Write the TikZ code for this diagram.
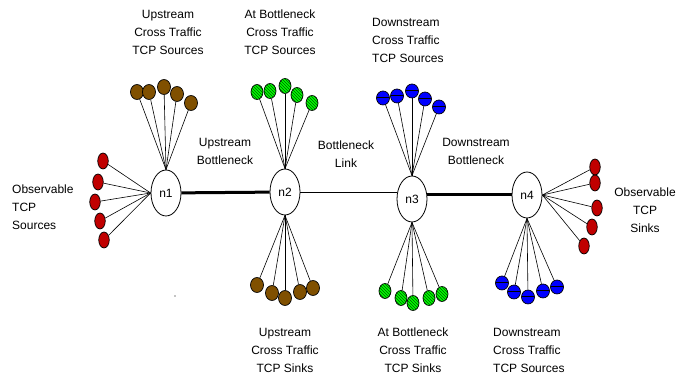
\documentclass[tikz,border=0pt]{standalone}
\usepackage{fontspec}
\setmainfont{Liberation Sans}
\usetikzlibrary{shapes.geometric}
\usetikzlibrary{patterns}

\definecolor{obsred}{RGB}{192,0,0}
\definecolor{upbrown}{RGB}{128,80,0}
\definecolor{atgreen}{RGB}{0,255,0}
\definecolor{dnblue}{RGB}{0,0,255}

\begin{document}
\begin{tikzpicture}[
x=1pt, y=-1pt,
hub/.style ={ellipse, draw, line width=0.8pt, fill=white,
  minimum width=30pt, minimum height=46pt, inner sep=0pt,
  font=\fontsize{12}{14}\selectfont
},
leaf/.style ={ellipse, draw, line width=0.7pt, inner sep=0pt,
  minimum width=12pt, minimum height=15pt},
obs/.style ={leaf, fill=obsred, minimum width=10.5pt, minimum height=16pt},
upx/.style ={leaf, fill=upbrown, minimum width=13pt},
atb/.style ={leaf, preaction={fill=atgreen},
  pattern=north west lines, pattern color=green!35!black},
dnx/.style ={leaf, fill=dnblue, minimum width=13pt, minimum height=14pt,
  path picture={\draw[line width=1pt] (path picture bounding box.west) -- (path picture bounding box.east);}},
lbl/.style ={align=center, inner sep=0pt, font=\fontsize{12}{18}\selectfont},
line/.style ={draw, line width=0.6pt},
link/.style ={draw, line width=0.8pt},
thicklink/.style ={draw, line width=3pt}
]
\useasboundingbox (0,0) rectangle (694,379);

% routers
\node[hub] (n1) at (166,193) {n1};
\node[hub] (n2) at (285,192) {n2};
\node[hub] (n3) at (412,199) {n3};
\node[hub] (n4) at (527,195) {n4};

% observable sources
\node[obs] (src1) at (103,161) {};
\node[obs] (src2) at (98,182) {};
\node[obs] (src3) at (95,202) {};
\node[obs] (src4) at (100,221) {};
\node[obs] (src5) at (104,240) {};

% upstream cross traffic sources
\node[upx] (ups1) at (137,92) {};
\node[upx] (ups2) at (149,92) {};
\node[upx] (ups3) at (164,87) {};
\node[upx] (ups4) at (177,94) {};
\node[upx] (ups5) at (191,103) {};

% at bottleneck cross traffic sources
\node[atb] (ats1) at (257,92) {};
\node[atb] (ats2) at (270,91) {};
\node[atb] (ats3) at (285,86) {};
\node[atb] (ats4) at (297,95) {};
\node[atb] (ats5) at (312,103) {};

% downstream cross traffic sources (top)
\node[dnx] (dns1) at (383,98) {};
\node[dnx] (dns2) at (397,96) {};
\node[dnx] (dns3) at (412,91) {};
\node[dnx] (dns4) at (425,99) {};
\node[dnx] (dns5) at (439,107) {};

% observable sinks
\node[obs] (snk1) at (595,167) {};
\node[obs] (snk2) at (595,183) {};
\node[obs] (snk3) at (597,208) {};
\node[obs] (snk4) at (592,227) {};
\node[obs] (snk5) at (584,246) {};

% upstream cross traffic sinks
\node[upx] (upk1) at (257,285) {};
\node[upx] (upk2) at (272,293) {};
\node[upx] (upk3) at (285,298) {};
\node[upx] (upk4) at (300,292) {};
\node[upx] (upk5) at (313,288) {};

% at bottleneck cross traffic sinks
\node[atb] (atk1) at (385,291) {};
\node[atb] (atk2) at (401,298) {};
\node[atb] (atk3) at (413,303) {};
\node[atb] (atk4) at (429,298) {};
\node[atb] (atk5) at (442,294) {};

% downstream cross traffic sources (bottom)
\node[dnx] (dnb1) at (502,283) {};
\node[dnx] (dnb2) at (514,292) {};
\node[dnx] (dnb3) at (528,297) {};
\node[dnx] (dnb4) at (543,291) {};
\node[dnx] (dnb5) at (557,287) {};

% labels
\node[lbl] (lbl-ups) at (168,32) {Upstream\\Cross Traffic\\TCP Sources};
\node[lbl] (lbl-ats) at (280,32) {At Bottleneck\\Cross Traffic\\TCP Sources};
\node[lbl, align=left, anchor=west] (lbl-dns) at (372,40) {Downstream\\Cross Traffic\\TCP Sources};
\node[lbl] (lbl-upb) at (225,151) {Upstream\\Bottleneck};
\node[lbl] (lbl-link) at (346,154) {Bottleneck\\Link};
\node[lbl] (lbl-dnb) at (476,151) {Downstream\\Bottleneck};
\node[lbl, align=left, anchor=west] (lbl-src) at (12,207) {Observable\\TCP\\Sources};
\node[lbl] (lbl-snk) at (645,210) {Observable\\TCP\\Sinks};
\node[lbl] (lbl-upk) at (285,350) {Upstream\\Cross Traffic\\TCP Sinks};
\node[lbl] (lbl-atk) at (413,350) {At Bottleneck\\Cross Traffic\\TCP Sinks};
\node[lbl, align=left, anchor=west] (lbl-dnk) at (493,350) {Downstream\\Cross Traffic\\TCP Sources};
\node[circle, fill, inner sep=0.5pt] (speck) at (175,296) {};

\path[thicklink] (n1) -- (n2);
\path[link] (n2.east) -- (n2.east -| n3.west);
\path[thicklink] (n4.west -| n3.east) -- (n4.west);

\path[line]
(src1) edge (n1.west) (src2) edge (n1.west) (src3) edge (n1.west)
(src4) edge (n1.west) (src5) edge (n1.west)
(ups1) edge (n1.north) (ups2) edge (n1.north) (ups3) edge (n1.north)
(ups4) edge (n1.north) (ups5) edge (n1.north)
(ats1) edge (n2.north) (ats2) edge (n2.north) (ats3) edge (n2.north)
(ats4) edge (n2.north) (ats5) edge (n2.north)
(dns1) edge (n3.north) (dns2) edge (n3.north) (dns3) edge (n3.north)
(dns4) edge (n3.north) (dns5) edge (n3.north)
(snk1) edge (n4.east) (snk2) edge (n4.east) (snk3) edge (n4.east)
(snk4) edge (n4.east) (snk5) edge (n4.east)
(upk1) edge (n2.south) (upk2) edge (n2.south) (upk3) edge (n2.south)
(upk4) edge (n2.south) (upk5) edge (n2.south)
(atk1) edge (n3.south) (atk2) edge (n3.south) (atk3) edge (n3.south)
(atk4) edge (n3.south) (atk5) edge (n3.south)
(dnb1) edge (n4.south) (dnb2) edge (n4.south) (dnb3) edge (n4.south)
(dnb4) edge (n4.south) (dnb5) edge (n4.south)
;
\end{tikzpicture}
\end{document}
